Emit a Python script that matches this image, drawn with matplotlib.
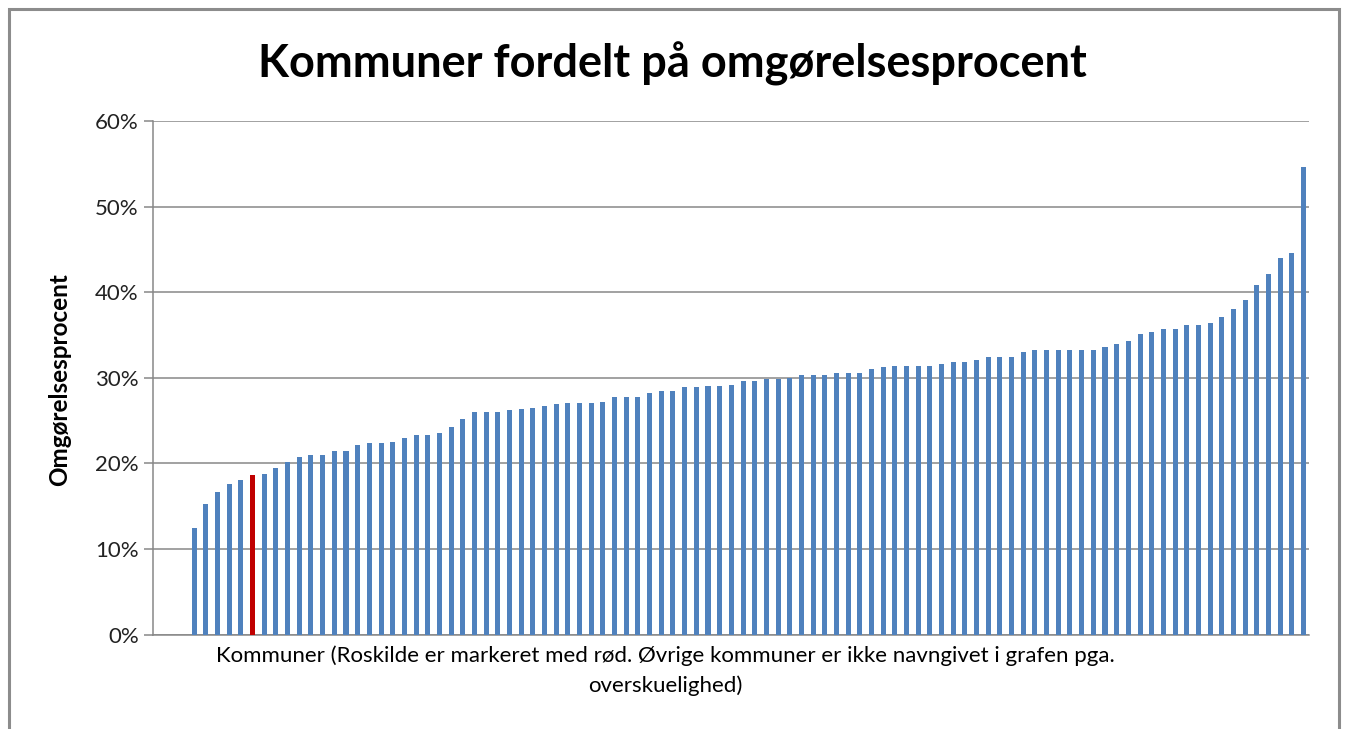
import numpy as np
import matplotlib.pyplot as plt
from matplotlib.patches import Rectangle
from matplotlib.ticker import PercentFormatter

# omgørelsesprocent pr. kommune, sorteret (de tre første pladser er tomme)
blank_slots = 3
values = [12.4, 15.3, 16.6, 17.6, 18.1, 18.6, 18.8, 19.4, 20.2, 20.8,
          21.0, 21.0, 21.4, 21.5, 22.1, 22.4, 22.4, 22.5, 23.0, 23.3,
          23.3, 23.5, 24.2, 25.2, 26.05, 26.05, 26.05, 26.2, 26.3, 26.5,
          26.75, 26.9, 27.1, 27.1, 27.1, 27.2, 27.7, 27.8, 27.8, 28.2,
          28.4, 28.5, 28.9, 28.9, 29.0, 29.0, 29.2, 29.6, 29.6, 29.9,
          29.9, 30.0, 30.3, 30.3, 30.3, 30.5, 30.6, 30.6, 31.0, 31.3,
          31.4, 31.4, 31.4, 31.4, 31.6, 31.9, 31.9, 32.1, 32.4, 32.4,
          32.4, 33.0, 33.2, 33.2, 33.2, 33.2, 33.2, 33.2, 33.6, 34.0,
          34.3, 35.1, 35.3, 35.7, 35.7, 36.15, 36.15, 36.4, 37.1, 38.0,
          39.1, 40.85, 42.15, 44.0, 44.6, 54.6]
roskilde_index = 8  # plads i hele rækken (inkl. tomme pladser)

y_ticks = [0, 10, 20, 30, 40, 50, 60]

title = "Kommuner fordelt på omgørelsesprocent"
y_label = "Omgørelsesprocent"
x_label = ("Kommuner (Roskilde er markeret med rød. Øvrige kommuner er ikke navngivet i grafen pga.\n"
           "overskuelighed)")

blue = "#4F81BD"
red = "#C00000"
grid_gray = "#878787"

plt.rcParams['font.family'] = ['Lato', 'DejaVu Sans']

heights = np.array([np.nan] * blank_slots + values) / 100.0
positions = np.arange(len(heights))
colors = [blue] * len(heights)
colors[roskilde_index] = red

fig = plt.figure(figsize=(13.45, 7.29), dpi=100)
ax = fig.add_axes([0.114, 0.1296, 0.8595, 0.7044])

ax.bar(positions, heights, width=0.43, color=colors, zorder=3)

ax.set_xlim(-0.5, len(heights) - 0.5)
ax.set_ylim(0, 0.6)
ax.set_yticks(np.array(y_ticks) / 100.0)
ax.yaxis.set_major_formatter(PercentFormatter(1.0, decimals=0))
ax.set_xticks([])

ax.grid(axis='y', color=grid_gray, linewidth=1.1, zorder=0)
for side in ['top', 'right']:
    ax.spines[side].set_visible(False)
for side in ['left', 'bottom']:
    ax.spines[side].set_color(grid_gray)
    ax.spines[side].set_linewidth(1.1)
ax.tick_params(axis='y', direction='out', length=6.5, width=1.1, color=grid_gray,
               labelsize=16, labelcolor='#222222', pad=4)

fig.text(0.5, 0.913, title, ha='center', va='center', fontsize=32.5, fontweight='bold')
fig.text(0.0446, 0.48, y_label, ha='center', va='center', rotation=90,
         fontsize=17.5, fontweight='bold')
fig.text(0.495, 0.114, x_label, ha='center', va='top', fontsize=16, linespacing=1.55)

# ramme om hele diagrammet
fig.patches.append(Rectangle((9 / 1345, -0.05), 1330 / 1345, 1.05 - 9 / 729,
                             transform=fig.transFigure, fill=False,
                             edgecolor='#8c8c8c', linewidth=2.2))

fig.savefig("out.png", dpi=100)
